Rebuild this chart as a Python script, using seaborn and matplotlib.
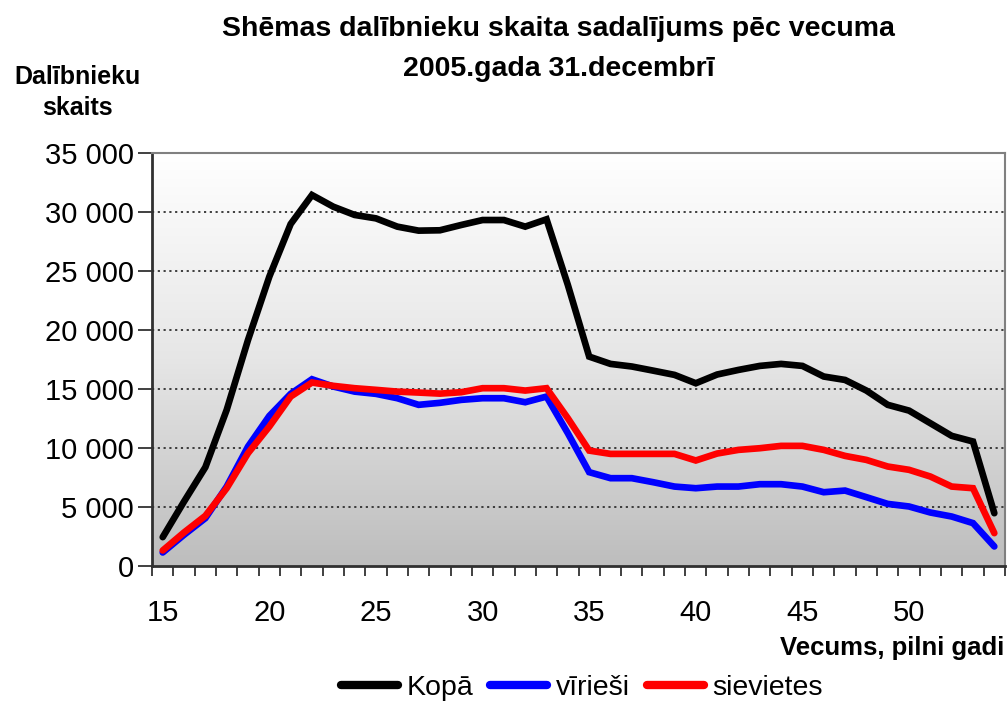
import numpy as np
import pandas as pd
import matplotlib
matplotlib.use("Agg")
import matplotlib.pyplot as plt
from matplotlib.colors import LinearSegmentedColormap
from matplotlib.ticker import FuncFormatter, FixedLocator
from matplotlib.lines import Line2D
import seaborn as sns

ages = list(range(15, 55))
kopa = [2430, 5450, 8360, 13220, 19150, 24520, 28980, 31440, 30450, 29750,
        29460, 28760, 28420, 28450, 28900, 29320, 29320, 28760, 29380, 23810,
        17740, 17120, 16900, 16550, 16190, 15480, 16220, 16610, 16950, 17120,
        16950, 16050, 15760, 14860, 13650, 13160, 12090, 11020, 10540, 4460]
virie = [1130, 2630, 4040, 6720, 10110, 12710, 14580, 15820, 15200, 14770,
         14580, 14210, 13650, 13820, 14070, 14210, 14210, 13870, 14350, 11240,
         7940, 7430, 7430, 7090, 6720, 6580, 6720, 6720, 6920, 6920,
         6720, 6240, 6380, 5820, 5250, 5030, 4520, 4180, 3620, 1640]
sievietes = [1300, 2830, 4240, 6580, 9550, 11810, 14350, 15540, 15260, 15060,
             14920, 14770, 14690, 14600, 14720, 15060, 15060, 14860, 15060, 12510,
             9770, 9490, 9490, 9490, 9490, 8930, 9520, 9830, 9970, 10170,
             10170, 9830, 9320, 8980, 8420, 8140, 7570, 6720, 6580, 2770]
series_names = ["Kopā", "vīrieši", "sievietes"]
series_colors = ["#000000", "#0000FF", "#FF0000"]
yticks = [0, 5000, 10000, 15000, 20000, 25000, 30000, 35000]
xlabels = [15, 20, 25, 30, 35, 40, 45, 50]

df = pd.concat([
    pd.DataFrame({"age": ages, "value": vals, "series": name})
    for name, vals in zip(series_names, [kopa, virie, sievietes])
], ignore_index=True)

sns.set_theme(style="white")
plt.rcParams["font.family"] = ["Liberation Sans", "DejaVu Sans"]
plt.rcParams["text.color"] = "black"
plt.rcParams["xtick.color"] = "black"
plt.rcParams["ytick.color"] = "black"

fig = plt.figure(figsize=(10.07, 7.02), dpi=100)
ax = fig.add_axes([0.151, 0.194, 0.847, 0.588])

# gradient background
cmap = LinearSegmentedColormap.from_list("g", ["#BDBDBD", "#E6E6E6", "#FFFFFF"])
grad = np.linspace(0, 1, 256).reshape(-1, 1)
ax.imshow(grad, cmap=cmap, origin="lower", aspect="auto",
          extent=[14.5, 54.5, 0, 35000], zorder=0)

for y in yticks[1:]:
    ax.axhline(y, color="#303030", lw=1.3, ls=(0, (1.2, 2.0)), zorder=1)

sns.lineplot(data=df, x="age", y="value", hue="series", hue_order=series_names,
             palette=series_colors, linewidth=4.8, ax=ax, legend=False,
             zorder=3, solid_joinstyle="miter")

ax.set_xlim(14.5, 54.5)
ax.set_ylim(0, 35000)
ax.set_yticks(yticks)
ax.yaxis.set_major_formatter(FuncFormatter(lambda v, p: f"{int(v):,}".replace(",", " ")))
ax.set_xticks(xlabels)
ax.set_xticklabels([str(v) for v in xlabels])
ax.xaxis.set_minor_locator(FixedLocator(np.arange(14.5, 55, 1)))
ax.tick_params(axis="x", which="major", length=0, pad=24, labelsize=21, labelcolor="black")
ax.tick_params(axis="x", which="minor", length=7.5, width=1.2, color="#202020", direction="out", bottom=True)
ax.tick_params(axis="y", which="major", length=10, width=1.2, color="#202020", direction="out",
               labelsize=21, left=True, pad=3, labelcolor="black")
ax.set_xlabel("")
ax.set_ylabel("")

for s in ["left", "bottom"]:
    ax.spines[s].set_color("#303030")
    ax.spines[s].set_linewidth(2)
for s in ["top", "right"]:
    ax.spines[s].set_color("#808080")
    ax.spines[s].set_linewidth(1.5)

fig.text(0.555, 0.958, "Shēmas dalībnieku skaita sadalījums pēc vecuma",
         ha="center", va="center", fontsize=20.5, fontweight="bold")
fig.text(0.555, 0.902, "2005.gada 31.decembrī",
         ha="center", va="center", fontsize=20.5, fontweight="bold")
fig.text(0.077, 0.868, "Dalībnieku\nskaits", ha="center", va="center",
         fontsize=18, fontweight="bold", linespacing=1.35)
fig.text(0.997, 0.077, "Vecums, pilni gadi", ha="right", va="center",
         fontsize=18.5, fontweight="bold")

handles = [Line2D([], [], color=c, lw=6) for c in series_colors]
fig.legend(handles, series_names, loc="center", bbox_to_anchor=(0.578, 0.02),
           ncol=3, frameon=False, fontsize=20.5, handlelength=2.0,
           handletextpad=0.3, columnspacing=0.6)

fig.savefig("out.png", dpi=100)
